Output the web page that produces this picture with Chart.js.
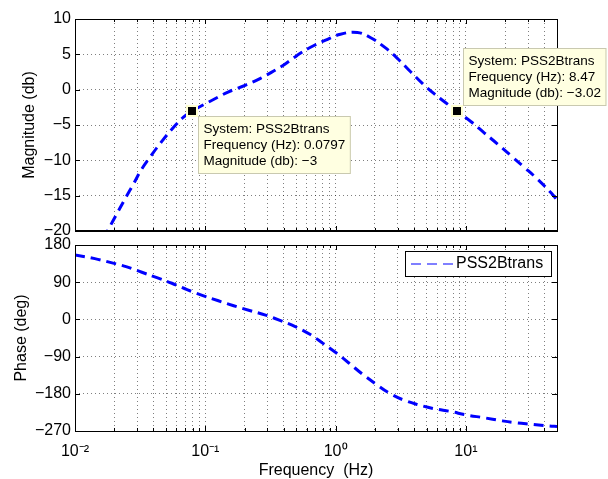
<!DOCTYPE html>
<html>
<head>
<meta charset="utf-8">
<script src="https://cdn.jsdelivr.net/npm/chart.js@4"></script>
<style>
  html, body { margin: 0; padding: 0; background: #fff; }
  #wrap { position: relative; width: 608px; height: 479px; overflow: hidden; }
  #magChart { position: absolute; left: 0; top: 0; }
  #phaseChart { position: absolute; left: 0; top: 232px; }
</style>
</head>
<body>
<div id="wrap">
  <canvas id="magChart" width="608" height="248"></canvas>
  <canvas id="phaseChart" width="608" height="247"></canvas>
</div>
<script>
// values
const seriesName = 'PSS2Btrans';

const magFreq = [0.0165, 0.018, 0.0209, 0.0243, 0.0282, 0.0326, 0.0385, 0.046, 0.0554, 0.068, 0.0797,
  0.11, 0.151, 0.204, 0.265, 0.346, 0.40, 0.507, 0.642, 0.838, 1.09, 1.47, 1.86, 2.36, 2.99, 3.78,
  4.65, 5.7, 7.0, 8.47, 10.9, 13.8, 17.5, 22.2, 28.1, 35.6, 45, 50];
const magDb = [-21.1, -19.8, -17.6, -15.4, -13.3, -11.2, -9.3, -7.4, -5.6, -3.9, -3.0,
  -1.6, -0.3, 0.65, 1.6, 2.8, 3.5, 4.85, 6.0, 7.0, 7.85, 8.1, 7.35, 6.05, 4.4, 2.5,
  0.85, -0.57, -1.85, -3.02, -4.5, -6.1, -7.7, -9.35, -11.0, -12.7, -14.6, -15.6];

const phaseFreq = [0.01, 0.0142, 0.0186, 0.025, 0.0326, 0.0425, 0.0554, 0.0724, 0.097, 0.126, 0.165,
  0.222, 0.29, 0.378, 0.49, 0.635, 0.80, 1.02, 1.27, 1.60, 2.03, 2.57, 3.26, 4.25, 5.7, 7.7,
  10, 13.8, 18.6, 24, 32.6, 43.7, 50];
const phaseDeg = [156, 147, 138, 127, 114, 101, 87.5, 72, 57, 45, 33,
  21, 10.5, -3, -17.5, -36, -58, -82, -106, -132, -156, -178, -194, -206, -216, -223,
  -231, -238, -245, -250, -254, -258, -259];

// axis ticks
const decadeTicks = [0.01, 0.1, 1, 10];
const decadeLabels = ['10\u207B\u00B2', '10\u207B\u00B9', '10\u2070', '10\u00B9'];
const magRange = [-20, 10, 5];
const phaseRange = [-270, 180, 90];

// data tips
const tipFreq = [0.0797, 8.47];
const tipMag = [-3, -3.02];

Chart.defaults.font.family = "'Liberation Sans', Arial, Helvetica, sans-serif";
Chart.defaults.color = '#000';

const FMIN = 0.01, FMAX = 50;

function minus(v) {
  return String(v).replace('-', '\u2212');
}

// all 1..9 x 10^n gridlines of the log axis
function logGridTicks(scale) {
  const ticks = [];
  for (let e = -2; e <= 1; e++) {
    for (let m = 1; m <= 9; m++) {
      const v = m * Math.pow(10, e);
      if (v <= FMAX * 1.000001) ticks.push({ value: v, major: m === 1 });
    }
  }
  scale.ticks = ticks;
}

const gridStyle = { color: 'rgba(0,0,0,0.5)', lineWidth: 1, drawTicks: false };
const dotted = { display: false, dash: [1, 3] };

// box round the axes, with inward ticks on every side (matlab style)
const boxPlugin = {
  id: 'box',
  afterDraw(chart, args, opts) {
    const { ctx, chartArea: a } = chart;
    const xs = chart.scales.x, ys = chart.scales.y;
    ctx.save();
    ctx.strokeStyle = '#000';
    ctx.lineWidth = 1;
    ctx.beginPath();
    xs.ticks.forEach(t => {
      const px = Math.round(xs.getPixelForValue(t.value)) + 0.5;
      const len = t.major ? 5 : 3;
      ctx.moveTo(px, a.bottom); ctx.lineTo(px, a.bottom - len);
      ctx.moveTo(px, a.top); ctx.lineTo(px, a.top + len);
    });
    ys.ticks.forEach(t => {
      const py = Math.round(ys.getPixelForValue(t.value)) + 0.5;
      ctx.moveTo(a.left, py); ctx.lineTo(a.left + 5, py);
      ctx.moveTo(a.right, py); ctx.lineTo(a.right - 5, py);
    });
    ctx.stroke();
    ctx.strokeRect(Math.round(a.left) + 0.5, Math.round(a.top) + 0.5,
      Math.round(a.right - a.left), Math.round(a.bottom - a.top));
    if (opts.thickBottom) {
      ctx.lineWidth = 2;
      ctx.beginPath();
      ctx.moveTo(a.left, Math.round(a.bottom));
      ctx.lineTo(a.right + 1, Math.round(a.bottom));
      ctx.stroke();
    }
    ctx.restore();
  }
};

// matlab style data tips
const tipPlugin = {
  id: 'tips',
  afterDraw(chart) {
    if (chart.canvas.id !== 'magChart') return;
    const { ctx } = chart;
    const xs = chart.scales.x, ys = chart.scales.y;
    ctx.save();
    ctx.font = "13.5px 'Liberation Sans', Arial, sans-serif";
    tipFreq.forEach((f, i) => {
      const px = xs.getPixelForValue(f);
      const py = ys.getPixelForValue(tipMag[i]);
      const lines = ['System: ' + seriesName,
        'Frequency (Hz): ' + f,
        'Magnitude (db): ' + minus(tipMag[i])];
      const w = Math.max(...lines.map(l => ctx.measureText(l).width)) + 11;
      const h = 58;
      const bx = Math.round(px + 6);
      const by = Math.round(i === 0 ? py + 5 : py - 5 - h);
      ctx.fillStyle = '#ffffe1';
      ctx.fillRect(bx, by, w, h);
      ctx.strokeStyle = '#c9c9b0';
      ctx.lineWidth = 1;
      ctx.strokeRect(bx + 0.5, by + 0.5, w - 1, h - 1);
      ctx.fillStyle = '#000';
      ctx.textBaseline = 'middle';
      lines.forEach((l, k) => ctx.fillText(l, bx + 5.5, by + 13 + k * 16));
      // marker
      ctx.fillStyle = '#ffffd0';
      ctx.fillRect(Math.round(px) - 6, Math.round(py) - 6, 12, 12);
      ctx.fillStyle = '#000';
      ctx.fillRect(Math.round(px) - 4, Math.round(py) - 4, 8, 8);
    });
    ctx.restore();
  }
};

// legend box in the phase axes
const legendPlugin = {
  id: 'bodeLegend',
  afterDraw(chart) {
    if (chart.canvas.id !== 'phaseChart') return;
    const { ctx, chartArea: a } = chart;
    const ds = chart.data.datasets[0];
    ctx.save();
    const right = Math.round(a.right) - 6, top = Math.round(a.top) + 6;
    const w = 146, h = 25;
    ctx.fillStyle = '#fff';
    ctx.fillRect(right - w, top, w, h);
    ctx.strokeStyle = '#000';
    ctx.lineWidth = 1;
    ctx.strokeRect(right - w + 0.5, top + 0.5, w, h);
    const cy = top + h / 2 + 0.5;
    ctx.strokeStyle = ds.borderColor;
    ctx.lineWidth = 1.2;
    ctx.setLineDash([10, 6]);
    ctx.beginPath();
    ctx.moveTo(right - w + 6, cy);
    ctx.lineTo(right - w + 48, cy);
    ctx.stroke();
    ctx.setLineDash([]);
    ctx.fillStyle = '#000';
    ctx.font = "16px 'Liberation Sans', Arial, sans-serif";
    ctx.textBaseline = 'middle';
    ctx.fillText(ds.label, right - w + 51, cy);
    ctx.restore();
  }
};

function lineSet(fs, vs) {
  return {
    label: seriesName,
    data: fs.map((f, i) => ({ x: f, y: vs[i] })),
    borderColor: '#0000ff',
    borderWidth: 3,
    borderDash: [10, 6],
    pointRadius: 0,
    fill: false,
    tension: 0.4
  };
}

// magnitude plot
new Chart(document.getElementById('magChart').getContext('2d'), {
  type: 'line',
  data: { datasets: [lineSet(magFreq, magDb)] },
  options: {
    responsive: false,
    animation: false,
    layout: { padding: { top: 19, right: 51, bottom: 17, left: 0 } },
    plugins: { legend: { display: false }, tooltip: { enabled: false }, box: { thickBottom: true } },
    scales: {
      x: {
        type: 'logarithmic',
        min: FMIN, max: FMAX,
        afterBuildTicks: logGridTicks,
        afterFit: s => { s.height = 0; },
        ticks: { display: false },
        grid: gridStyle,
        border: dotted
      },
      y: {
        min: magRange[0], max: magRange[1],
        ticks: { stepSize: magRange[2], padding: 4, font: { size: 16 }, callback: v => minus(v) },
        afterFit: s => { s.width = 75; s.paddingTop = 0; s.paddingBottom = 0; },
        grid: gridStyle,
        border: dotted,
        title: { display: true, text: 'Magnitude (db)', font: { size: 16 }, padding: { top: 19.5, bottom: 0 } }
      }
    }
  },
  plugins: [boxPlugin, tipPlugin]
});

// phase plot
new Chart(document.getElementById('phaseChart').getContext('2d'), {
  type: 'line',
  data: { datasets: [lineSet(phaseFreq, phaseDeg)] },
  options: {
    responsive: false,
    animation: false,
    layout: { padding: { top: 13, right: 51, bottom: 0, left: 0 } },
    plugins: { legend: { display: false }, tooltip: { enabled: false } },
    scales: {
      x: {
        type: 'logarithmic',
        min: FMIN, max: FMAX,
        afterBuildTicks: logGridTicks,
        afterFit: s => { s.height = 48; s.paddingLeft = 0; s.paddingRight = 0; },
        ticks: {
          autoSkip: false, maxRotation: 0, padding: 11, font: { size: 16 },
          callback: function (value) {
            const i = decadeTicks.findIndex(d => Math.abs(value / d - 1) < 1e-6);
            return i >= 0 ? decadeLabels[i] : '';
          }
        },
        grid: gridStyle,
        border: dotted,
        title: { display: true, text: 'Frequency  (Hz)', font: { size: 16, lineHeight: 1.1 }, padding: { top: 0, bottom: 0 } }
      },
      y: {
        min: phaseRange[0], max: phaseRange[1],
        ticks: { stepSize: phaseRange[2], padding: 4, font: { size: 16 }, callback: v => minus(v) },
        afterFit: s => { s.width = 75; s.paddingTop = 0; s.paddingBottom = 0; },
        grid: gridStyle,
        border: dotted,
        title: { display: true, text: 'Phase (deg)', font: { size: 16 }, padding: { top: 11.5, bottom: 0 } }
      }
    }
  },
  plugins: [boxPlugin, legendPlugin]
});
</script>
</body>
</html>
